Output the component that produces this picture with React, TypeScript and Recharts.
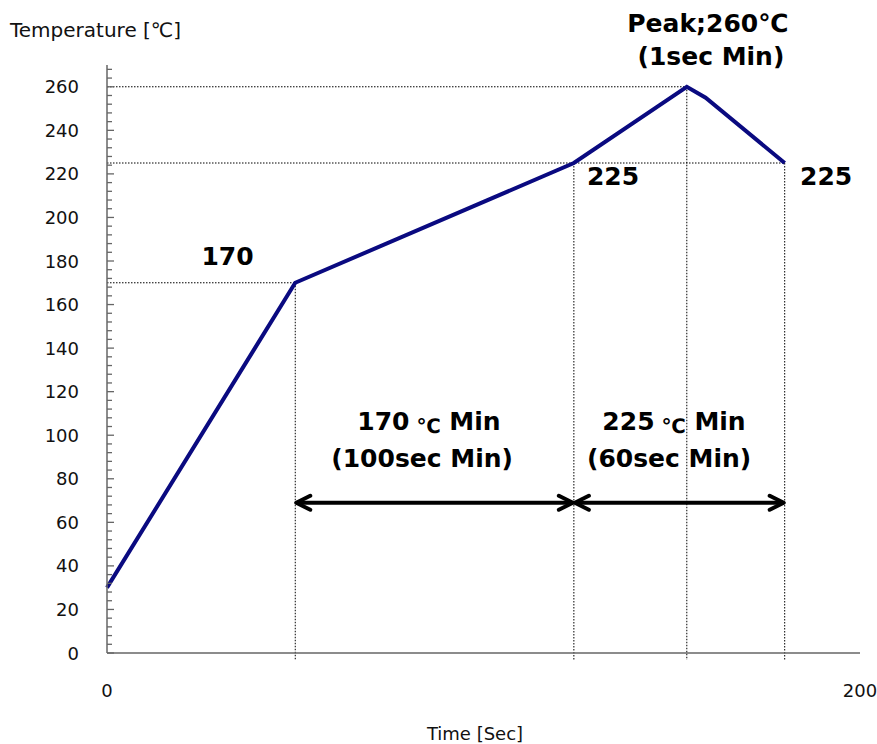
import React from "react";
import { ComposedChart, Line, XAxis, YAxis, ReferenceLine, ReferenceDot } from "recharts";

// reflow profile
const times = [0, 50, 124, 154, 159, 180];
const temps = [30, 170, 225, 260, 255, 225];

const yLabels = [0, 20, 40, 60, 80, 100, 120, 140, 160, 180, 200, 220, 240, 260];
const yMinorStep = 4;
const yMax = 270;
const xLabels = [0, 200];

// dwell windows (arrows)
const arrowLevel = 69;
const windows = [
  [50, 124],
  [124, 180],
];

const FONT = "'DejaVu Sans', 'Liberation Sans', Arial, sans-serif";
const AXIS = "#666";

const data = times.map((t, i) => ({ time: t, temp: temps[i] }));

const yTicks: number[] = [];
for (let v = 0; v < yMax; v += yMinorStep) yTicks.push(v);

const YTick = (props: any) => {
  const { x, y, payload } = props;
  const major = yLabels.includes(payload.value);
  return (
    <g>
      <line x1={x} y1={y} x2={x + (major ? 7 : 5)} y2={y} stroke={AXIS} strokeWidth={1.3} />
      {major && (
        <text x={x - 28} y={y} textAnchor="end" dominantBaseline="central" fontSize={18} fontFamily={FONT} fill="#111">
          {payload.value}
        </text>
      )}
    </g>
  );
};

const XTick = (props: any) => {
  const { x, y, payload } = props;
  return (
    <text x={x} y={y + 44} textAnchor="middle" fontSize={18} fontFamily={FONT} fill="#111">
      {payload.value}
    </text>
  );
};

const ArrowShape = (p: any) => {
  const { x1, y1, x2, y2 } = p;
  const h = 15;
  const w = 7;
  return (
    <g stroke="#000" strokeWidth={4} fill="none" strokeLinecap="round" strokeLinejoin="round">
      <line x1={x1 + 2} y1={y1} x2={x2 - 2} y2={y2} />
      <polyline points={`${x1 + h},${y1 - w} ${x1 + 1},${y1} ${x1 + h},${y1 + w}`} />
      <polyline points={`${x2 - h},${y2 - w} ${x2 - 1},${y2} ${x2 - h},${y2 + w}`} />
    </g>
  );
};

const notes = [
  { x: 32, y: 178, text: "170" },
  { x: 134.4, y: 215, text: "225" },
  { x: 191, y: 215, text: "225" },
  { x: 159.6, y: 285, text: "Peak;260℃" },
  { x: 160.4, y: 270, text: "(1sec Min)" },
  { x: 85.5, y: 102.4, text: "170", deg: true },
  { x: 83.7, y: 85.4, text: "(100sec Min)" },
  { x: 150.6, y: 102.4, text: "225", deg: true },
  { x: 149.3, y: 85.4, text: "(60sec Min)" },
];

const dotted = { stroke: "#000", strokeDasharray: "1.5 1.5", strokeWidth: 1 };

export default function App() {
  return (
    <div style={{ position: "absolute", left: 0, top: 0, width: 877, height: 744, background: "#fff" }}>
      <ComposedChart width={877} height={744} data={data} margin={{ top: 65, right: 17, bottom: 31, left: 7 }}>
        <XAxis
          dataKey="time"
          type="number"
          domain={[0, 200]}
          ticks={xLabels}
          tickLine={false}
          tickSize={0}
          tickMargin={0}
          tick={<XTick />}
          height={60}
          axisLine={{ stroke: AXIS, strokeWidth: 1.5 }}
          label={{
            content: () => (
              <text x={475} y={740} textAnchor="middle" fontSize={18} fontFamily={FONT} fill="#111">
                Time [Sec]
              </text>
            ),
          }}
        />
        <YAxis
          type="number"
          domain={[0, yMax]}
          ticks={yTicks}
          interval={0}
          width={100}
          tickLine={false}
          tickSize={0}
          tickMargin={0}
          tick={<YTick />}
          axisLine={{ stroke: AXIS, strokeWidth: 1.5 }}
          allowDataOverflow
          label={{
            content: () => (
              <text x={10} y={37} fontSize={20} fontFamily={FONT} fill="#111">
                Temperature [℃]
              </text>
            ),
          }}
        />
        <ReferenceLine segment={[{ x: 0, y: 260 }, { x: 154, y: 260 }]} {...dotted} ifOverflow="visible" />
        <ReferenceLine segment={[{ x: 0, y: 225 }, { x: 180, y: 225 }]} {...dotted} ifOverflow="visible" />
        <ReferenceLine segment={[{ x: 0, y: 170 }, { x: 50, y: 170 }]} {...dotted} ifOverflow="visible" />
        <ReferenceLine segment={[{ x: 50, y: 170 }, { x: 50, y: -3.2 }]} {...dotted} ifOverflow="visible" />
        <ReferenceLine segment={[{ x: 124, y: 225 }, { x: 124, y: -3.2 }]} {...dotted} ifOverflow="visible" />
        <ReferenceLine segment={[{ x: 154, y: 260 }, { x: 154, y: -3.2 }]} {...dotted} ifOverflow="visible" />
        <ReferenceLine segment={[{ x: 180, y: 225 }, { x: 180, y: -3.2 }]} {...dotted} ifOverflow="visible" />
        {windows.map(([a, b], i) => (
          <ReferenceLine
            key={`w-${i}`}
            segment={[{ x: a, y: arrowLevel }, { x: b, y: arrowLevel }]}
            ifOverflow="visible"
            shape={<ArrowShape />}
          />
        ))}
        <Line
          type="linear"
          dataKey="temp"
          stroke="#0a0a80"
          strokeWidth={4}
          dot={false}
          activeDot={false}
          isAnimationActive={false}
        />
        {notes.map((n, i) => (
          <ReferenceDot
            key={`n-${i}`}
            x={n.x}
            y={n.y}
            r={0}
            ifOverflow="visible"
            shape={(p: any) => (
              <text x={p.cx} y={p.cy} textAnchor="middle" fontSize={25} fontWeight="bold" fontFamily={FONT} fill="#000">
                {n.deg ? (
                  <>
                    {n.text}
                    <tspan fontSize={20} dy={3}> ℃</tspan>
                    <tspan dy={-3}> Min</tspan>
                  </>
                ) : (
                  n.text
                )}
              </text>
            )}
          />
        ))}
      </ComposedChart>
    </div>
  );
}
